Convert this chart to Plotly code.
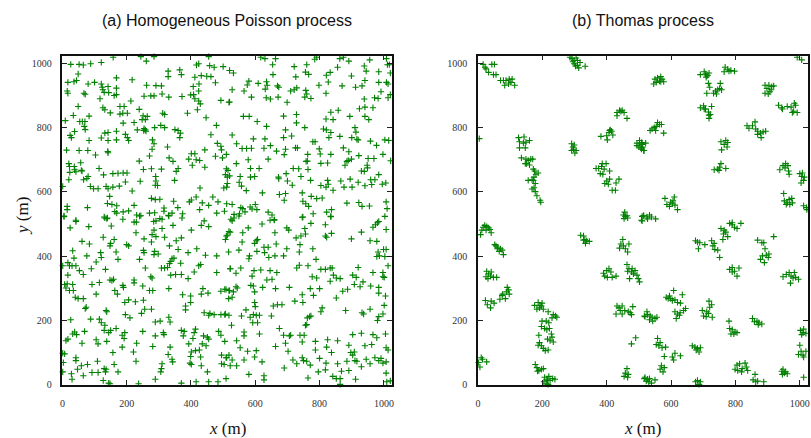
import plotly.graph_objects as go

# ---------------- data (metres) ----------------
poisson_nw = [(26,997),(52,997),(65,995),(88,999),(121,1003),(158,1019),(244,1021),(261,1007),(285,1021),(417,995),(424,999),(455,1021),(458,993),(472,988),(500,990),
(49,967),(329,976),(365,980),(370,965),(412,957),(432,962),(449,960),(462,959),(329,959),(168,955),(217,949),(44,947),(36,943),(17,941),(80,936),(100,941),(121,936),(124,926),(142,928),(168,923),(262,932),(291,931),(308,930),(407,928),(425,936),(476,940),
(15,914),(17,907),(67,907),(71,904),(126,918),(130,910),(144,909),(161,900),(168,903),(117,890),(254,898),(275,899),(285,899),(310,905),(331,895),(372,897),(399,902),(408,903),(424,914),(412,890),(424,883),(429,874),(493,885),(518,879),
(49,866),(126,862),(132,856),(179,866),(192,866),(213,883),(149,846),(179,842),(188,845),(202,845),(239,857),(251,837),(264,835),(312,845),(318,841),(389,845),(420,856),(83,836),(34,838),(9,822),(54,819),(62,819),(70,819),(189,814),(223,816),(248,825),(258,825),(447,831),(479,807),(68,804),(71,794),(38,788),(24,776),(28,769),(83,760),(121,768),(132,783),(142,785),(168,789),(196,779),(202,769),(206,760),(233,793),(254,797),(258,793),(260,789),(253,791),(287,800),(306,807),(318,800),(350,794),(360,791),(367,783),(365,769),(168,762),(142,760),(280,762),(285,750),(279,733),(327,740),(462,778),(482,751),(493,742),(495,731),
(13,730),(52,729),(79,729),(103,715),(141,726),(142,722),(239,696),(271,712),(332,706),(344,695),(393,702),(401,719),(412,719),(416,700),(427,698),(443,731),(443,677),(404,683),(476,711),(498,706),(510,672),(20,688),(22,679),(37,679),(38,669),(42,663),(57,691),(59,667),(61,665),(23,661),(20,638),(66,638),(76,642),(80,648),(114,673),(128,653),(157,657),(173,658),(189,659),(201,659),(252,670),(277,672),(308,671),(290,648),(291,634),(296,620),(289,621),(349,636),(354,664),(360,673),(507,654),(513,646),(511,615),(502,612),
(1,617),(87,617),(97,610),(111,610),(136,617),(142,610),(157,615),(177,618),(196,631),(242,633),(217,603),(147,586),(277,580),(289,576),(303,577),(346,571),(395,569),(401,575),(428,612),(416,584),(435,566),(468,584),(484,569),(15,555),(15,545),(78,551),(140,564),(154,561),(169,557),(223,558),(163,539),(169,534),(189,538),(206,541),(231,528),(244,526),(271,534),(287,535),(316,550),(316,540),(330,527),(341,534),(359,551),(374,532),(427,545),(455,558),(480,534),(504,540),(511,563),(5,525),(130,522),(140,519),(303,517),(42,512)]

poisson_ne = [(617,1019),(630,1015),(663,1015),(785,1013),(791,1019),(863,1015),(874,1019),(891,1007),(956,1011),(1008,1015),(1011,996),(1017,996),(520,978),(532,970),(654,996),(655,965),(721,990),(760,996),(756,973),(766,966),(726,958),(821,963),(833,972),(856,988),(899,961),(939,992),(945,976),(984,974),(1020,970),
(580,945),(575,933),(609,938),(635,943),(637,932),(631,920),(669,930),(673,926),(729,924),(721,918),(710,914),(757,916),(760,905),(798,932),(827,942),(820,907),(870,930),(912,926),(932,930),(941,947),(984,941),(1008,941),(1013,936),
(528,918),(565,914),(588,895),(634,893),(647,889),(671,895),(699,879),(754,895),(773,891),(520,880),(991,912),(1020,903),(939,889),(971,893),(982,891),(1013,893),(924,859),(941,864),(966,862),
(563,835),(581,835),(606,819),(688,836),(728,841),(728,815),(754,800),(812,796),(820,827),(821,793),(835,848),(842,825),(858,854),(894,835),(941,835),(953,825),
(528,777),(542,750),(559,735),(573,735),(588,736),(594,765),(630,765),(627,736),(647,744),(635,804),(666,727),(688,769),(694,733),(713,774),(694,793),(725,737),(731,737),(779,756),(786,756),(763,717),(762,696),(758,695),(799,734),(802,718),(835,785),(829,769),(863,773),(874,737),(891,725),(900,769),(910,800),(913,786),(916,764),(920,762),(958,758),(977,745),(1003,762),(1015,760),
(510,717),(541,688),(578,700),(585,673),(612,673),(640,702),(690,716),(718,673),(735,672),(764,670),(804,689),(825,690),(835,717),(879,683),(885,695),(889,698),(899,702),(922,713),(951,704),(969,704),(997,717),(1021,697),(948,683),(949,675),(930,665),(939,664),(959,638),(972,638),(984,654),(1006,628),
(515,667),(520,650),(513,626),(553,648),(550,630),(557,618),(572,604),(585,646),(598,648),(622,597),(672,646),(673,641),(696,657),(700,634),(715,621),(742,648),(772,636),(804,620),(820,615),(827,624),(825,636),(866,634),(842,605),(876,615),(895,640),(901,615),(920,630),(941,619),(962,623),(995,624),
(675,592),(694,595),(690,574),(746,597),(748,571),(757,563),(766,555),(774,586),(791,579),(808,581),(885,565),(922,567),(932,555),(955,556),(1007,569),(528,561),(555,551),(561,548),(584,553),(600,561),(590,547),(605,545),(534,530),(551,532),(568,538),(640,537),(652,528),(659,514),(780,532),(748,522),(822,537),(837,545),(835,524),(1003,524),(1010,548)]

poisson_sw = [(5,523),(24,488),(42,508),(82,492),(132,519),(138,517),(152,494),(188,515),(223,506),(230,506),(240,525),(284,508),(291,510),(285,481),(310,486),(310,515),(331,525),(344,496),(372,519),(401,481),(432,496),(441,510),(455,492),(510,463),(518,477),
(61,446),(84,438),(127,459),(150,440),(148,432),(161,452),(200,436),(206,432),(229,473),(254,454),(279,467),(277,444),(291,461),(298,407),(318,459),(333,432),(354,448),(370,457),(360,421),(391,411),(418,423),(480,401),(507,452),
(32,417),(36,394),(17,380),(22,370),(30,370),(42,370),(53,355),(65,343),(76,401),(90,361),(105,382),(119,411),(121,396),(134,359),(1,370),(167,413),(173,390),(240,390),(254,411),(252,418),(287,415),(285,405),(258,363),(275,336),(308,363),(318,363),(327,365),(333,377),(337,384),(341,392),(347,394),(368,378),(337,341),(352,343),(370,343),(410,351),(391,330),(424,370),(430,374),(445,403),(522,361),(480,349),
(17,341),(7,312),(15,314),(32,312),(11,301),(22,293),(34,293),(92,312),(105,282),(115,318),(148,326),(159,328),(154,324),(188,309),(190,303),(163,293),(171,282),(223,326),(223,317),(250,307),(271,293),(281,293),(279,332),(331,299),(374,280),(399,276),(437,299),(432,282),(453,285),(493,291),(505,297),(518,293),
(40,272),(49,268),(65,268),(74,241),(71,237),(136,231),(138,227),(194,256),(206,264),(227,258),(252,263),(256,235),(246,222),(277,235),(210,208),(196,218),(383,245),(383,233),(399,256),(441,224),(455,216),(472,218),(493,218),(505,218),(518,216),
(88,204),(26,202),(115,204),(121,193),(132,185),(144,162),(130,169),(150,169),(167,175),(194,162),(192,144),(186,154),(231,129),(250,166),(289,195),(304,198),(289,152),(314,162),(316,156),(331,210),(335,195),(370,169),(379,166),(376,152),(406,144),(410,162),(414,173),(439,152),(451,148),(455,142),(486,166),(493,154),(459,222),
(32,158),(38,164),(44,156),(17,142),(11,137),(61,129),(69,166),(105,140),(111,127),(138,135),(157,100),(186,117),(221,102),(229,73),(281,119),(335,117),(329,94),(341,79),(343,71),(393,127),(401,102),(414,106),(426,108),(435,127),(399,88),(430,86),(447,121),(495,92),(511,84),(518,92),
(1,98),(7,96),(3,69),(42,84),(42,75),(47,48),(78,63),(59,59),(109,73),(161,63),(130,50),(136,48),(310,65),(308,50),(306,40),(397,67),(401,63),(432,59),(451,40),(495,65),(503,63),
(1,40),(28,34),(30,17),(65,28),(92,38),(111,38),(134,40),(173,40),(127,13),(144,5),(148,3),(237,3),(289,17),(370,5),(416,9),(455,9),(484,9),(509,19)]

poisson_se = [(524,515),(528,510),(534,519),(549,525),(621,500),(646,512),(659,512),(746,521),(773,502),(835,523),(513,465),(522,475),(561,473),(578,488),(661,473),(698,488),(704,481),(754,486),(756,469),(727,457),(742,463),(818,498),(837,471),(818,463),(822,459),(899,454),(930,475),(957,448),(978,446),(966,490),(974,498),(980,504),(984,508),(1007,483),
(517,413),(549,419),(559,444),(582,401),(580,392),(603,448),(607,452),(598,440),(605,415),(627,428),(640,428),(629,411),(642,396),(661,401),(665,438),(698,423),(739,436),(737,413),(779,423),(789,390),(688,401),(982,413),(999,421),(1007,421),(986,401),(978,399),(1003,399),
(522,361),(540,347),(555,363),(590,338),(596,355),(617,357),(636,326),(646,355),(652,328),(667,349),(729,363),(737,372),(764,370),(777,336),(791,332),(804,359),(818,359),(833,363),(839,363),(843,341),(852,332),(864,330),(833,322),(903,341),(914,334),(920,365),(966,349),(997,349),(997,336),(1001,334),(1013,370),
(509,297),(520,293),(528,272),(532,289),(517,268),(540,305),(544,301),(586,309),(594,307),(598,289),(623,303),(663,299),(706,303),(746,280),(771,299),(781,278),(800,299),(852,270),(872,291),(887,297),(908,312),(926,305),(935,320),(959,307),(984,303),(984,285),(1005,276),
(507,220),(557,214),(571,233),(584,210),(598,256),(600,243),(594,218),(603,216),(592,193),(607,193),(613,216),(650,214),(656,245),(669,249),(683,249),(723,260),(748,256),(769,212),(773,214),(762,208),(804,227),(808,239),(881,231),(932,224),(937,220),(957,235),(980,200),(984,212),(997,220),(1001,247),
(526,185),(565,164),(565,152),(613,158),(675,175),(688,154),(706,152),(710,154),(694,129),(702,104),(739,154),(752,154),(746,133),(756,185),(760,187),(787,135),(825,140),(856,137),(903,156),(930,160),(966,156),(978,146),(1005,158),
(505,135),(542,137),(553,115),(576,104),(603,106),(663,119),(787,108),(822,117),(837,100),(891,123),(897,100),(908,102),(941,121),(962,125),(1007,115),(1013,108),
(509,84),(528,77),(522,59),(542,59),(565,77),(598,86),(621,71),(717,77),(729,65),(746,84),(750,75),(760,73),(771,61),(800,82),(820,67),(856,65),(885,73),(903,92),(910,75),(916,73),(930,56),(945,79),(957,65),(972,84),(984,75),(991,82),(997,67),(1007,71),
(580,32),(627,28),(627,15),(690,52),(764,21),(796,40),(818,46),(841,26),(852,19),(864,19),(864,1),(868,42),(891,44),(912,17),(1007,36),(1009,9),(1020,12)]

thomas_nw = [(16,997),(25,983),(33,972),(43,997),(51,997),(48,965),(56,965),(22,988),
(70,947),(79,947),(87,947),(83,932),(97,951),(95,936),(106,951),(114,932),(102,941),
(286,1019),(292,1015),(299,1009),(305,1017),(299,999),(309,994),(313,986),(303,992),(317,1003),(333,991),(295,1005),(309,1009),
(432,847),(440,854),(448,854),(454,847),(463,829),(432,837),(444,851),
(411,793),(407,785),(415,789),(400,775),(382,773),(402,762),(419,777),(409,791),
(4,766),
(126,769),(143,771),(160,760),(129,756),(129,737),(147,737),(141,752),(149,755),
(494,752),(502,760),(510,748),(494,744),(506,737),(515,729),(500,740),(509,754),
(291,750),(295,740),(297,733),(305,729),(301,721),(291,729),(299,746),
(135,706),(149,702),(156,698),(164,702),(170,702),(151,688),(160,684),(147,688),
(172,671),(176,665),(180,655),(187,659),(174,646),(168,638),(156,636),(172,636),(178,626),
(168,609),(174,613),(178,601),(183,588),(193,574),(195,568),
(367,673),(375,673),(384,679),(392,671),(398,688),(409,665),(386,688),(380,657),(388,655),
(394,626),(400,634),(409,640),(405,624),(438,640),(429,628),(417,605),(427,605),
(456,537),(463,526),(458,524),(452,528),(510,524),(515,526)]

thomas_ne = [(992,1019),(1006,1011),
(550,951),(558,955),(568,959),(572,951),(577,943),(564,945),(546,936),(554,941),(568,943),
(691,965),(703,974),(707,967),(714,963),(718,970),(709,957),(711,961),
(768,988),(776,982),(786,978),(797,976),(765,974),(780,976),
(716,938),(720,926),(732,907),(738,914),(751,922),(757,918),(745,918),(753,938),(741,905),(711,907),
(892,932),(904,932),(913,928),(919,930),(898,922),(907,912),(902,905),(892,907),(911,918),
(934,870),(944,862),(961,866),(973,864),(983,876),(987,870),(981,851),(992,847),(977,847),(946,858),
(691,862),(701,868),(707,858),(716,849),(722,841),(726,866),(718,839),(718,829),(703,858),
(836,806),(842,798),(853,806),(861,818),(863,796),(869,789),(878,783),(880,769),(886,787),(894,789),(869,779),
(535,791),(541,796),(548,800),(554,804),(558,816),(564,810),(570,810),(577,783),(552,791),
(755,756),(770,760),(776,754),(774,740),(757,731),(765,748),
(508,752),(512,740),(521,752),(516,729),(508,733),
(734,669),(745,671),(751,677),(755,688),(770,673),(749,667),
(938,669),(948,682),(956,688),(963,682),(965,665),(967,655),(954,675),
(1000,657),(1006,648),(1012,636),(1008,659),(1004,628),(1014,646),
(581,580),(587,561),(595,555),(599,568),(606,572),(610,584),(612,559),(620,545),(604,563),
(950,595),(952,572),(961,566),(967,576),(975,580),(977,566),(969,561),(958,561),
(1012,557),(1021,551),(1022,545),
(514,526),(525,522),(533,528),(539,522),(552,516),(527,516)]

thomas_sw = [(16,490),(21,496),(27,492),(33,488),(37,483),(41,473),(25,481),(8,467),(12,481),
(52,436),(56,432),(62,428),(70,423),(75,419),(79,405),(60,423),(66,415),
(319,465),(328,463),(332,452),(338,448),(346,446),(334,440),(328,450),
(454,517),(465,519),(510,510),
(450,452),(444,438),(452,432),(458,423),(465,413),(469,438),(440,425),
(27,353),(33,345),(39,338),(41,351),(48,334),(58,334),(25,336),(31,330),
(390,347),(400,355),(407,361),(413,351),(402,334),(417,334),(429,338),(394,338),
(463,374),(469,361),(477,351),(483,345),(488,355),(494,341),(498,330),(502,320),(471,330),(479,361),(465,353),
(23,262),(29,249),(39,239),(41,260),(50,254),(68,266),(77,282),(85,268),(89,289),(91,303),(95,295),(97,282),(75,278),
(176,247),(187,256),(193,247),(199,254),(203,235),(191,239),(183,235),(197,245),
(218,227),(234,218),(241,214),(245,210),(230,208),(212,198),(220,193),(199,198),(197,181),
(207,175),(214,171),(222,175),(228,158),(230,148),(224,137),(234,133),(216,142),
(189,154),(191,131),(187,123),(197,121),(203,113),(209,106),(218,108),
(432,245),(438,239),(448,245),(456,231),(467,227),(481,243),(477,218),(429,220),(448,220),(442,231),(473,224),
(517,214),(490,146),(477,127),
(2,69),(10,84),(14,79),(27,71),(6,55),
(178,63),(183,53),(189,44),(197,48),(203,50),(185,42),
(207,23),(214,17),(220,26),(224,13),(232,19),(239,17),(205,9),(212,3),(218,1),(216,13),
(463,50),(458,36),(467,32),(454,26),(465,23),(517,19)]

thomas_se = [(508,512),
(755,486),(765,481),(770,475),(763,469),(776,461),(761,452),(782,502),(790,498),(797,490),(805,486),(817,502),(790,504),
(676,448),(682,444),(689,442),(685,423),(705,436),(726,448),(730,432),(736,421),(745,419),(751,396),(734,440),
(869,450),(882,442),(888,442),(892,423),(878,390),(884,401),(890,380),(896,403),(902,396),(904,407),(919,461),
(782,359),(790,365),(797,353),(805,338),(811,363),(790,351),
(948,336),(958,343),(967,349),(973,338),(979,332),(987,334),(996,328),(971,316),(983,349),
(585,272),(591,268),(599,268),(608,293),(612,264),(620,256),(629,254),(635,280),(639,231),(645,237),(604,262),(595,276),
(612,227),(620,220),(626,216),(616,206),(628,224),
(519,212),(527,218),(535,214),(541,210),(550,206),(556,210),(533,202),(543,198),(525,227),
(697,231),(701,214),(709,212),(716,222),(720,241),(726,249),(718,260),(728,210),(711,227),
(780,198),(782,175),(790,171),(799,164),(805,162),(786,158),(795,158),
(853,206),(859,196),(867,198),(873,193),(882,189),(871,187),
(1002,169),(1010,162),(1019,160),(1012,173),(1006,156),
(558,144),(554,125),(562,121),(572,115),(583,117),(566,131),
(604,86),(608,77),(612,98),(629,90),(579,88),
(666,121),(674,117),(682,113),(691,115),(687,102),(678,108),
(1000,123),(1004,104),(1010,92),(1019,104),(1012,86),(996,94),
(570,59),(575,40),(579,53),(566,48),
(799,48),(805,61),(813,65),(821,50),(830,67),(834,55),(838,44),(819,40),(807,44),
(519,23),(527,17),(533,19),(539,5),(550,15),(523,11),(531,9),
(676,9),(682,13),(691,9),(687,1),
(861,32),(855,15),(863,9),(869,11),(888,9),
(944,42),(948,48),(952,36),(956,40),(961,34),(946,32),
(1012,23)]

tick_vals = [0, 200, 400, 600, 800, 1000]
tick_text = ["0", "200", "400", "600", "800", "1000"]
panel_titles = ["(a) Homogeneous Poisson process", "(b) Thomas process"]

poisson = poisson_nw + poisson_ne + poisson_sw + poisson_se
thomas = thomas_nw + thomas_ne + thomas_sw + thomas_se

GREEN = "#008000"
SERIF = "Liberation Serif, Times New Roman, serif"
SANS = "Liberation Sans, Arial, Helvetica, sans-serif"

fig = go.Figure()
for pts, xa, ya in [(poisson, "x", "y"), (thomas, "x2", "y2")]:
    fig.add_trace(go.Scatter(
        x=[p[0] for p in pts], y=[p[1] for p in pts],
        xaxis=xa, yaxis=ya, mode="markers", cliponaxis=False,
        marker=dict(symbol="cross-thin", size=4.5, color=GREEN,
                    line=dict(color=GREEN, width=1.1)),
        showlegend=False, hoverinfo="skip"))

W, H = 811, 438
left_a, right_a = 62.4, 391.6
left_b, right_b = 478.0, 807.5
top, bottom = 55.7, 384.7

def axis_common():
    return dict(range=[0, 1024], showgrid=False, zeroline=False,
                showline=True, linecolor="#111", linewidth=1.5, mirror="ticks",
                ticks="inside", ticklen=5, tickwidth=1, tickcolor="#222",
                tickvals=tick_vals, ticktext=tick_text,
                tickfont=dict(family=SERIF, size=10, color="#333"),
                automargin=False, fixedrange=True)

ydom = [1 - bottom / H, 1 - top / H]
fig.update_layout(
    width=W, height=H, margin=dict(l=0, r=0, t=0, b=0),
    paper_bgcolor="white", plot_bgcolor="white",
    xaxis=dict(domain=[left_a / W, right_a / W], anchor="y", ticklabelstandoff=9, **axis_common()),
    yaxis=dict(domain=ydom, anchor="x", ticklabelstandoff=7, **axis_common()),
    xaxis2=dict(domain=[left_b / W, right_b / W], anchor="y2", ticklabelstandoff=9, **axis_common()),
    yaxis2=dict(domain=ydom, anchor="x2", ticklabelstandoff=7, **axis_common()),
)

ann = []
for title, (l, r) in zip(panel_titles, [(left_a, right_a), (left_b, right_b)]):
    cx = (l + r) / 2 / W
    ann.append(dict(text=title, x=cx, y=1 - 20 / H, xref="paper", yref="paper",
                    xanchor="center", yanchor="middle", showarrow=False,
                    font=dict(family=SANS, size=16, color="#111")))
    ann.append(dict(text="<i>x</i> (m)", x=cx, y=1 - 428 / H, xref="paper", yref="paper",
                    xanchor="center", yanchor="middle", showarrow=False,
                    font=dict(family=SERIF, size=17, color="#111")))
ann.append(dict(text="<i>y</i> (m)", x=22 / W, y=1 - 216 / H, xref="paper", yref="paper",
                xanchor="center", yanchor="middle", showarrow=False, textangle=-90,
                font=dict(family=SERIF, size=17, color="#111")))
fig.update_layout(annotations=ann)

fig.write_html("out.html")
